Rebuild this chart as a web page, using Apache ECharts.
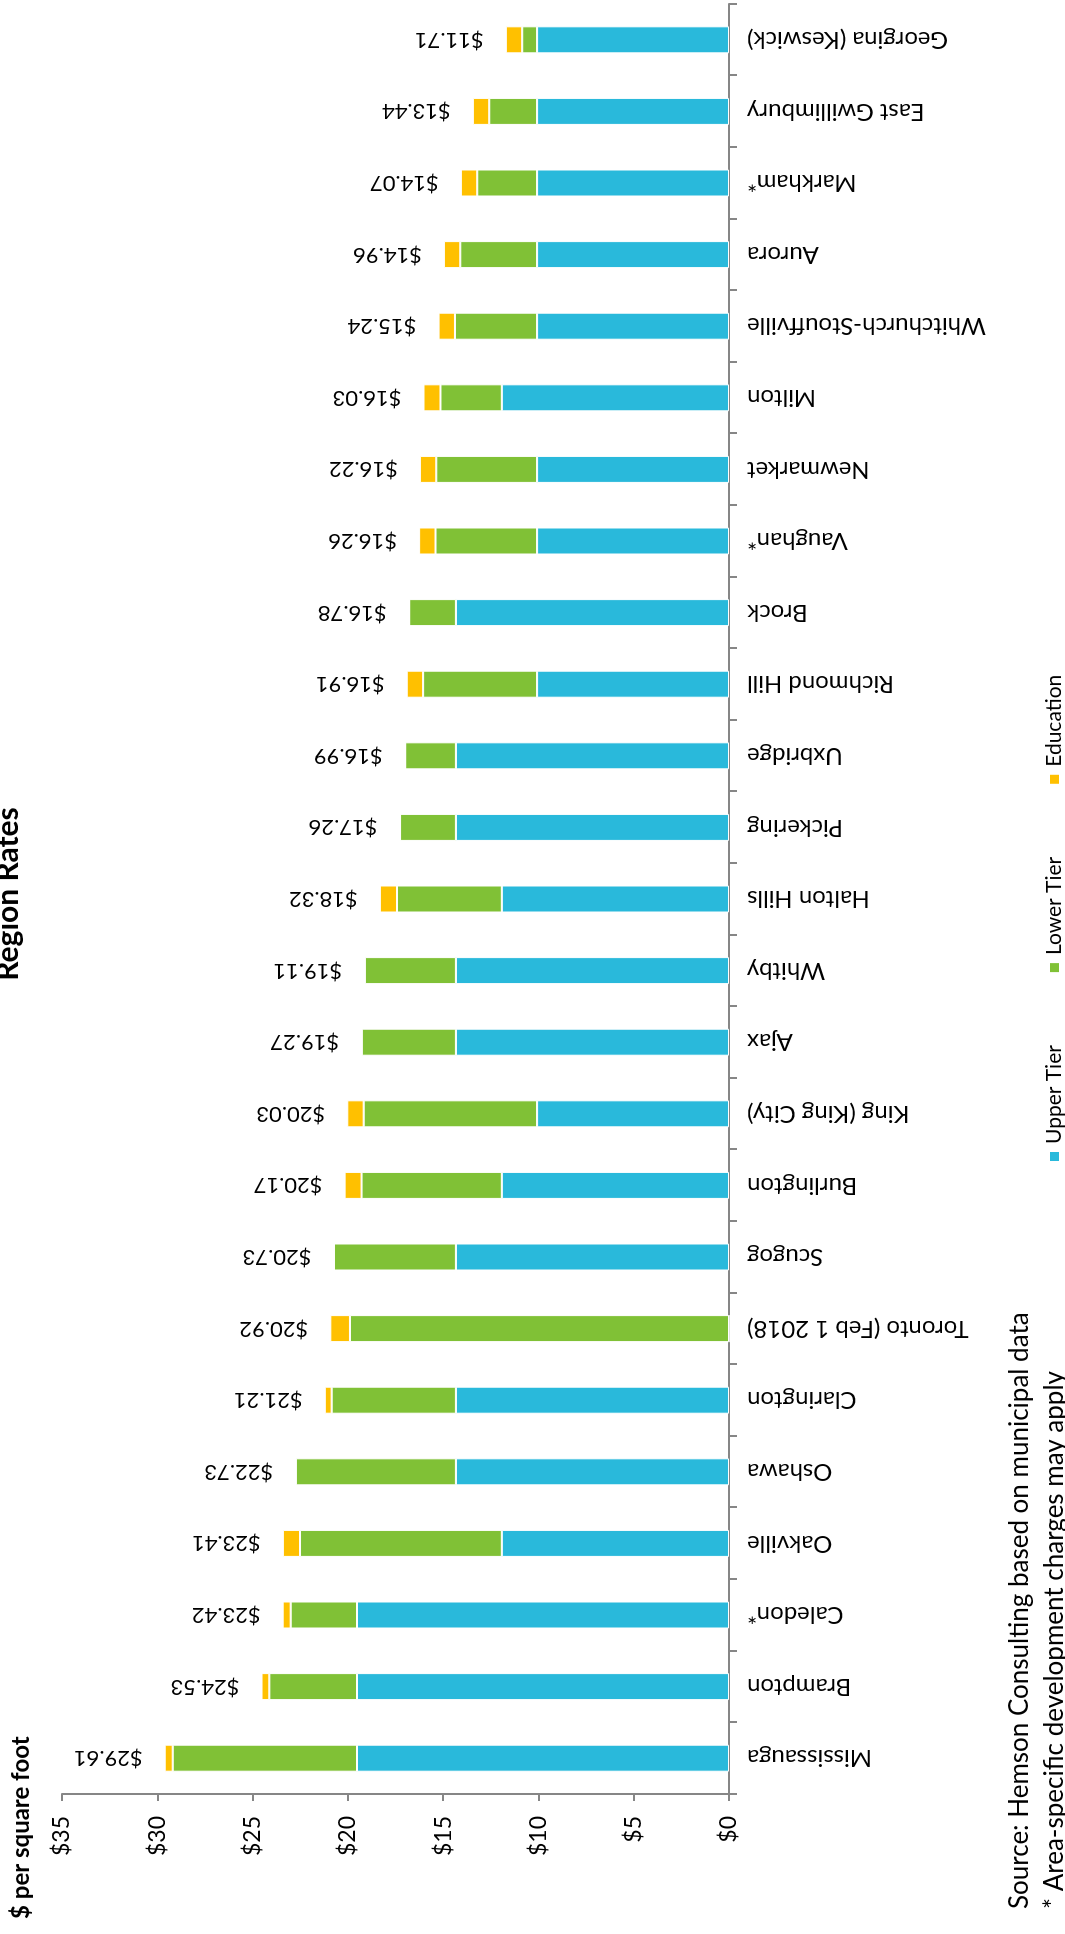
<!DOCTYPE html>
<html>
<head>
<meta charset="utf-8">
<script src="https://cdn.jsdelivr.net/npm/echarts@6/dist/echarts.min.js"></script>
<style>
  html, body { margin: 0; padding: 0; background: #fff; overflow: hidden; }
  body { width: 1065px; height: 1934px; position: relative; }
  /* The chart is laid out landscape and turned a quarter turn counter-clockwise on the page */
  #chart {
    position: absolute; left: 0; top: 0;
    width: 1934px; height: 1065px;
    transform-origin: 0 0;
    transform: translate(0, 1934px) rotate(-90deg);
  }
</style>
</head>
<body>
<div id="chart"></div>
<script>
// Development charges per square foot, by municipality
const categories = [
  'Mississauga', 'Brampton', 'Caledon*', 'Oakville', 'Oshawa', 'Clarington',
  'Toronto (Feb 1 2018)', 'Scugog', 'Burlington', 'King (King City)', 'Ajax',
  'Whitby', 'Halton Hills', 'Pickering', 'Uxbridge', 'Richmond Hill', 'Brock',
  'Vaughan*', 'Newmarket', 'Milton', 'Whitchurch-Stouffville', 'Aurora',
  'Markham*', 'East Gwillimbury', 'Georgina (Keswick)'
];
const upperTier = [
  19.52, 19.52, 19.52, 11.92, 14.33, 14.33,
  0, 14.33, 11.92, 10.07, 14.33,
  14.33, 11.92, 14.33, 14.33, 10.07, 14.33,
  10.07, 10.07, 11.92, 10.07, 10.07,
  10.07, 10.07, 10.07
];
const lowerTier = [
  9.67, 4.60, 3.48, 10.59, 8.40, 6.52,
  19.89, 6.40, 7.36, 9.10, 4.94,
  4.78, 5.50, 2.93, 2.66, 5.98, 2.45,
  5.33, 5.29, 3.22, 4.31, 4.03,
  3.14, 2.51, 0.78
];
const education = [
  0.42, 0.41, 0.42, 0.90, 0, 0.36,
  1.03, 0, 0.89, 0.86, 0,
  0, 0.90, 0, 0, 0.86, 0,
  0.86, 0.86, 0.89, 0.86, 0.86,
  0.86, 0.86, 0.86
];
const valueTicks = { min: 0, max: 35, interval: 5 };

const totals = categories.map((_, i) => upperTier[i] + lowerTier[i] + education[i]);

const FONT = 'Lato, "Open Sans", sans-serif';
const AXIS_GREY = '#868686';

const chart = echarts.init(document.getElementById('chart'), null, {
  renderer: 'canvas', width: 1934, height: 1065
});

const barBase = {
  type: 'bar',
  stack: 'total',
  barWidth: 27,
  itemStyle: { borderColor: '#ffffff', borderWidth: 1 }
};

chart.setOption({
  animation: false,
  backgroundColor: '#ffffff',
  textStyle: { fontFamily: FONT },
  title: [
    {
      text: 'Region Rates',
      left: 1035, top: -12, textAlign: 'center',
      textStyle: { fontFamily: FONT, fontSize: 30, fontWeight: 'bold', color: '#000' }
    },
    {
      text: '$ per square foot',
      left: 10, top: 4,
      textStyle: { fontFamily: FONT, fontSize: 24, fontWeight: 'bold', color: '#000' }
    },
    {
      text: 'Source: Hemson Consulting based on municipal data\n* Area-specific development charges may apply',
      left: 20, top: 997,
      textStyle: { fontFamily: FONT, fontSize: 26, fontWeight: 'normal', color: '#000', lineHeight: 35 }
    }
  ],
  legend: {
    left: 766, top: 1039,
    itemWidth: 11, itemHeight: 11, itemGap: 71,
    icon: 'rect',
    textStyle: { fontFamily: FONT, fontSize: 21, color: '#000', padding: [0, 0, 0, 2] },
    data: ['Upper Tier', 'Lower Tier', 'Education']
  },
  grid: { left: 140, right: 4, top: 62, bottom: 336, containLabel: false },
  xAxis: {
    type: 'category',
    data: categories,
    axisLine: { lineStyle: { color: AXIS_GREY, width: 2 } },
    axisTick: { show: true, alignWithLabel: false, length: 8, lineStyle: { color: AXIS_GREY, width: 2 } },
    axisLabel: {
      rotate: 90, margin: 18, interval: 0,
      fontFamily: FONT, fontSize: 24, color: '#000'
    }
  },
  yAxis: {
    type: 'value',
    min: valueTicks.min, max: valueTicks.max, interval: valueTicks.interval,
    axisLine: { show: true, lineStyle: { color: AXIS_GREY, width: 2 } },
    axisTick: { show: true, length: 7, lineStyle: { color: AXIS_GREY, width: 2 } },
    splitLine: { show: false },
    axisLabel: {
      margin: 22, fontFamily: FONT, fontSize: 23, color: '#000',
      formatter: v => '$' + v
    }
  },
  series: [
    Object.assign({}, barBase, {
      name: 'Upper Tier', data: upperTier,
      itemStyle: Object.assign({}, barBase.itemStyle, { color: '#29B9DB' })
    }),
    Object.assign({}, barBase, {
      name: 'Lower Tier', data: lowerTier,
      itemStyle: Object.assign({}, barBase.itemStyle, { color: '#80C136' })
    }),
    Object.assign({}, barBase, {
      name: 'Education', data: education,
      itemStyle: Object.assign({}, barBase.itemStyle, { color: '#FFC000' }),
      label: {
        show: true, position: 'top', distance: 22,
        rotate: 90, align: 'left', verticalAlign: 'middle',
        fontFamily: FONT, fontSize: 22, color: '#000',
        formatter: p => '$' + totals[p.dataIndex].toFixed(2)
      }
    })
  ]
});
</script>
</body>
</html>
